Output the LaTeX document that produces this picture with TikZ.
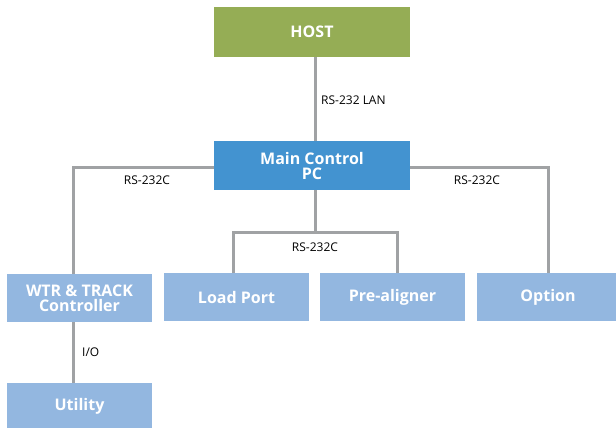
\documentclass[tikz,border=0pt]{standalone}
\usepackage{fontspec}
\setmainfont{Open Sans}
\definecolor{hostgreen}{HTML}{95AD55}
\definecolor{mainblue}{HTML}{4393D0}
\definecolor{lightblue}{HTML}{93B7E0}
\definecolor{linegray}{HTML}{A0A2A4}
\begin{document}
\begin{tikzpicture}[x=1pt,y=-1pt,
  box/.style={draw=none,text=white,font=\fontsize{16}{15}\selectfont\bfseries,align=center,inner sep=0pt},
  conn/.style={draw=linegray,line width=3pt},
  lbl/.style={font=\fontsize{12}{13}\selectfont,text=black,inner sep=0pt}]
\useasboundingbox (0,0) rectangle (616,428);
\fill[hostgreen] (214,7) rectangle (410,57);
\node[box] (host) at (312,32) {HOST};
\fill[mainblue] (214,141) rectangle (410,190);
\node[box] (main) at (312,165.5) {Main Control\\PC};
\fill[lightblue] (7,274) rectangle (152,322);
\node[box] (wtr) at (79.5,298) {WTR \& TRACK\\Controller};
\fill[lightblue] (164,273) rectangle (309,321);
\node[box] (load) at (236.5,297) {Load Port};
\fill[lightblue] (320,273) rectangle (465,321);
\node[box] (pre) at (392.5,297) {Pre-aligner};
\fill[lightblue] (477,273) rectangle (616,321);
\node[box] (opt) at (548,297) {Option};
\fill[lightblue] (7,383) rectangle (152,428);
\node[box] (util) at (79.5,406) {Utility};
\coordinate (hb) at (315,57);
\coordinate (mt) at (315,141);
\coordinate (ml) at (214,167);
\coordinate (mr) at (410,167);
\coordinate (mb) at (315,190);
\coordinate (wt) at (73,274);
\coordinate (wb) at (73,322);
\coordinate (ut) at (73,383);
\coordinate (ot) at (548,273);
\coordinate (lt) at (233,273);
\coordinate (pt) at (397,273);
\draw[conn] (hb) -- (mt);
\draw[conn] (ml) -| (wt);
\draw[conn] (mr) -| (ot);
\draw[conn] (mb) -- (315,232);
\draw[conn] (lt) |- (315,232) -| (pt);
\draw[conn] (wb) -- (ut);
\node[lbl,anchor=west] (l1) at (321,100) {RS-232 LAN};
\node[lbl] (l2) at (147,180) {RS-232C};
\node[lbl] (l3) at (477,180) {RS-232C};
\node[lbl] (l4) at (315,247) {RS-232C};
\node[lbl,anchor=west] (l5) at (82,352) {I/O};
\end{tikzpicture}
\end{document}
